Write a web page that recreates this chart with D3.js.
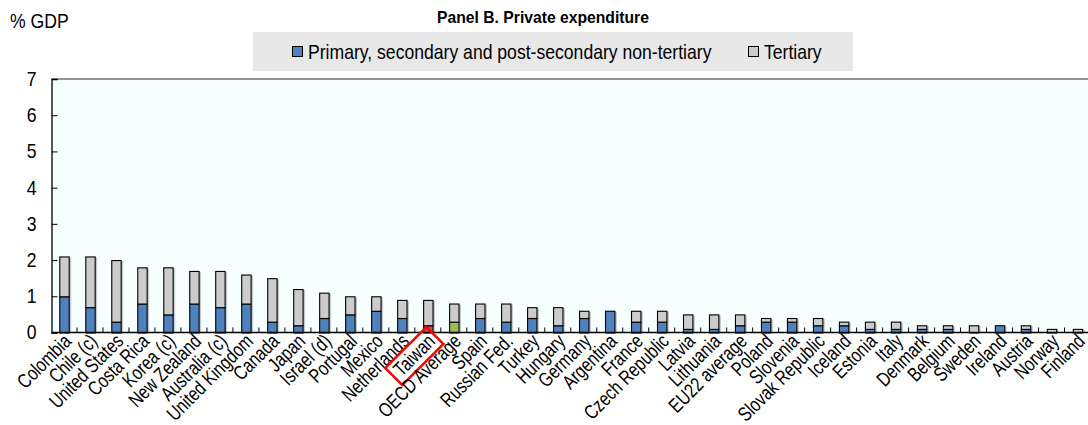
<!DOCTYPE html>
<html>
<head>
<meta charset="utf-8">
<script src="https://cdn.jsdelivr.net/npm/d3@7"></script>
<style>
  html, body { margin: 0; padding: 0; background: #ffffff; }
  svg { display: block; }
  text { font-family: "Liberation Sans", Arial, sans-serif; }
</style>
</head>
<body>
<svg id="chart" width="1088" height="425"></svg>
<script>
// Private expenditure on educational institutions, % of GDP
const countries = [
  "Colombia", "Chile (c)", "United States", "Costa Rica", "Korea (c)", "New Zealand",
  "Australia (c)", "United Kingdom", "Canada", "Japan", "Israel (d)", "Portugal",
  "Mexico", "Netherlands", "Taiwan", "OECD Average", "Spain", "Russian Fed.",
  "Turkey", "Hungary", "Germany", "Argentina", "France", "Czech Republic",
  "Latvia", "Lithuania", "EU22 average", "Poland", "Slovenia", "Slovak Republic",
  "Iceland", "Estonia", "Italy", "Denmark", "Belgium", "Sweden", "Ireland",
  "Austria", "Norway", "Finland"
];
// Primary, secondary and post-secondary non-tertiary
const nonTertiary = [
  1.0, 0.7, 0.3, 0.8, 0.5, 0.8,
  0.7, 0.8, 0.3, 0.2, 0.4, 0.5,
  0.6, 0.4, 0.2, 0.3, 0.4, 0.3,
  0.4, 0.2, 0.4, 0.6, 0.3, 0.3,
  0.1, 0.1, 0.2, 0.3, 0.3, 0.2,
  0.2, 0.1, 0.1, 0.1, 0.1, 0.0, 0.2,
  0.1, 0.0, 0.0
];
// Tertiary
const tertiary = [
  1.1, 1.4, 1.7, 1.0, 1.3, 0.9,
  1.0, 0.8, 1.2, 1.0, 0.7, 0.5,
  0.4, 0.5, 0.7, 0.5, 0.4, 0.5,
  0.3, 0.5, 0.2, 0.0, 0.3, 0.3,
  0.4, 0.4, 0.3, 0.1, 0.1, 0.2,
  0.1, 0.2, 0.2, 0.1, 0.1, 0.2, 0.0,
  0.1, 0.1, 0.1
];
const yTicks = [0, 1, 2, 3, 4, 5, 6, 7];
const seriesNames = ["Primary, secondary and post-secondary non-tertiary", "Tertiary"];
const highlighted = "Taiwan";
const average = "OECD Average";

const colors = { base: "#4f81bd", tertiary: "#cccccc", highlight: "#c0504d", average: "#9bbb59" };

// condensed text: regular face squeezed horizontally
const FS = 20, SQ = 0.88;
const LFS = 20, LSQ = 0.79;   // category labels

const svg = d3.select("#chart");
const margin = { left: 51.5, top: 79, right: -3, bottom: 92.5 };
const W = 1088, H = 425;

const x = d3.scaleBand()
  .domain(countries)
  .range([margin.left, W - margin.right])
  .paddingInner(0.6).paddingOuter(0.3);

const y = d3.scaleLinear().domain([0, 7]).range([H - margin.bottom, margin.top]);

const rows = countries.map((c, i) => ({ c, a: nonTertiary[i], b: tertiary[i] }));
const stack = d3.stack().keys(["a", "b"])(rows);

// Plot background
svg.append("rect")
  .attr("x", margin.left).attr("y", margin.top)
  .attr("width", W - margin.right - margin.left).attr("height", y(0) - margin.top)
  .attr("fill", "#f6fefe");

// Top frame line
svg.append("line")
  .attr("x1", margin.left).attr("x2", W)
  .attr("y1", margin.top).attr("y2", margin.top)
  .attr("stroke", "#707070").attr("stroke-width", 1.5);

// Title
svg.append("text")
  .attr("x", 543).attr("y", 23)
  .attr("text-anchor", "middle")
  .attr("font-weight", "bold").attr("font-size", 15.7)
  .attr("fill", "#000")
  .text("Panel B. Private expenditure");

function squeezed(parent, tx, ty, str, anchor) {
  return parent.append("text")
    .attr("transform", `translate(${tx},${ty}) scale(${SQ},1)`)
    .attr("text-anchor", anchor || "start")
    .attr("font-size", FS).attr("fill", "#000")
    .text(str);
}

// Legend
const lg = svg.append("g");
lg.append("rect").attr("x", 253).attr("y", 32).attr("width", 600).attr("height", 39).attr("fill", "#e8e8e8");
const legendItems = [
  { name: seriesNames[0], color: colors.base, x: 292 },
  { name: seriesNames[1], color: colors.tertiary, x: 748 }
];
legendItems.forEach(d => {
  lg.append("rect").attr("x", d.x + 0.5).attr("y", 46.5).attr("width", 10).attr("height", 10)
    .attr("fill", d.color).attr("stroke", "#000").attr("stroke-width", 1);
  squeezed(lg, d.x + 16, 59, d.name);
});

// "% GDP" unit label
squeezed(svg, 10, 28, "% GDP");

// Bars
const fillFor = (key, c) => {
  if (key === "b") return colors.tertiary;
  if (c === highlighted) return colors.highlight;
  if (c === average) return colors.average;
  return colors.base;
};

const bw = x.bandwidth();
// soft shadow behind each bar
svg.append("g").selectAll("rect").data(rows).join("rect")
  .attr("x", d => x(d.c) + 1.5).attr("y", d => y(d.a + d.b) + 1)
  .attr("width", bw).attr("height", d => y(0) - y(d.a + d.b) - 1)
  .attr("fill", "#9a9a9a").attr("opacity", 0.55);

stack.forEach(layer => {
  svg.append("g").selectAll("rect").data(layer.filter(d => d[1] - d[0] > 0)).join("rect")
    .attr("x", d => x(d.data.c) + 0.5)
    .attr("y", d => y(d[1]) + 0.5)
    .attr("width", bw - 1)
    .attr("height", d => y(d[0]) - y(d[1]))
    .attr("fill", d => fillFor(layer.key, d.data.c))
    .attr("stroke", "#000").attr("stroke-width", 1.1);
});

// Y axis
const yAxis = svg.append("g")
  .attr("transform", `translate(${margin.left},0)`)
  .call(d3.axisLeft(y).tickValues(yTicks).tickSize(-6).tickPadding(17).tickFormat(d3.format("d")));
yAxis.select(".domain").attr("stroke", "#000").attr("stroke-width", 1.3);
yAxis.selectAll(".tick line").attr("stroke", "#000");
yAxis.selectAll(".tick text")
  .attr("font-family", null)
  .attr("font-size", FS).attr("fill", "#000")
  .attr("transform", `scale(${SQ},1)`);

// X axis: ticks between categories pointing up
const xAxisY = y(0);
svg.append("line")
  .attr("x1", margin.left).attr("x2", W)
  .attr("y1", xAxisY).attr("y2", xAxisY)
  .attr("stroke", "#000").attr("stroke-width", 1.5);
svg.append("g").selectAll("line").data(countries.slice(1)).join("line")
  .attr("x1", d => x(d) - x.step() * x.paddingInner() / 2 - 0.5)
  .attr("x2", d => x(d) - x.step() * x.paddingInner() / 2 - 0.5)
  .attr("y1", xAxisY).attr("y2", xAxisY - 5)
  .attr("stroke", "#000").attr("stroke-width", 1);

// Category labels, rotated
const labels = svg.append("g").selectAll("g").data(countries).join("g")
  .attr("transform", d => `translate(${x(d) + bw / 2 + 8},${xAxisY + 10}) rotate(-45)`);
labels.append("text")
  .attr("text-anchor", "end")
  .attr("transform", `scale(${LSQ},1)`)
  .attr("font-size", LFS).attr("fill", "#000")
  .text(d => d);

// Frame around the highlighted label
labels.filter(d => d === highlighted).each(function () {
  const t = d3.select(this).select("text");
  const len = t.node().getComputedTextLength() * LSQ;
  d3.select(this).append("rect")
    .attr("x", -len - 5).attr("y", -18)
    .attr("width", len + 9).attr("height", 24)
    .attr("fill", "none").attr("stroke", "#ff0000").attr("stroke-width", 2.5);
});
</script>
</body>
</html>
